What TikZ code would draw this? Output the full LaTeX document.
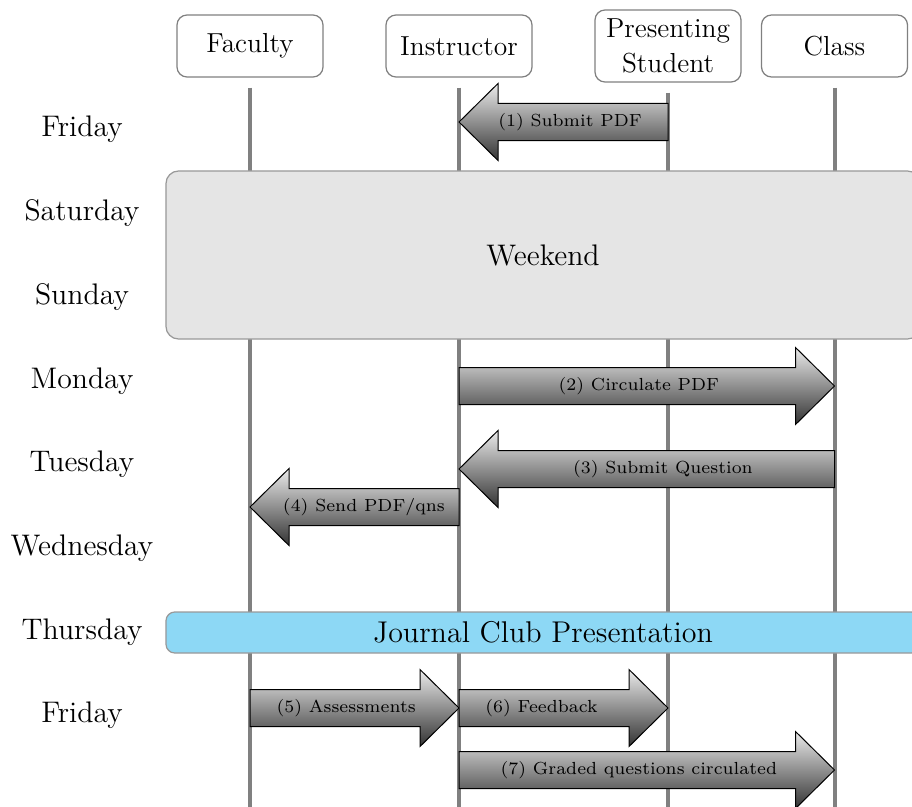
\documentclass[tikz,border=0pt]{standalone}
\usetikzlibrary{calc}
\definecolor{jcblue}{RGB}{141,216,245}
\tikzset{
  header/.style={draw=black!50, line width=0.5pt, rounded corners=4pt, fill=white,
    minimum width=58.4pt, minimum height=24.8pt, align=center, inner sep=0pt,
    font=\fontsize{11}{14}\selectfont},
  lane/.style={draw=black!50, line width=1.6pt},
  day/.style={anchor=base, font=\fontsize{11.9}{14}\selectfont},
  band/.style={draw=black!40, line width=0.5pt, rounded corners=5pt,
    minimum width=301.6pt, inner sep=0pt, font=\fontsize{12}{14}\selectfont},
  flow/.style={draw=black, line width=0.4pt, top color=black!8, bottom color=black!80},
  flowlabel/.style={font=\fontsize{7}{8}\selectfont}
}
\newcommand\flowarrow[4]{%
  \draw[flow] let \p1=(#1), \p2=(#2), \n1={ifthenelse(\x2>\x1,1,-1)} in
    (\x1,{\y1+7.4pt}) -- ({\x2-(\n1)*15.6pt},{\y1+7.4pt}) -- ({\x2-(\n1)*15.6pt},{\y1+15.4pt})
    -- (\x2,\y1) -- ({\x2-(\n1)*15.6pt},{\y1-15.4pt}) -- ({\x2-(\n1)*15.6pt},{\y1-7.4pt})
    -- (\x1,{\y1-7.4pt}) -- cycle;
  \path (#1) -- (#2) node[flowlabel, pos=#3] {#4};
}
\begin{document}
\begin{tikzpicture}[x=0.4pt,y=-0.4pt]
\useasboundingbox (0,0) rectangle (912,806);
% headers
\node[header] (fac) at (250,46) {Faculty};
\node[header] (ins) at (459,46) {Instructor};
\node[header, minimum height=28.8pt] (stu) at (668,46) {Presenting\\Student};
\node[header] (cls) at (834.5,46) {Class};
\coordinate (bot) at (0,815);
% lanes
\foreach \n in {fac,ins,stu,cls}{
  \draw[lane] ([yshift=-4pt]\n.south) -- (\n.south |- bot);
}
% days
\node[day] (d1) at (82,137) {Friday};
\node[day] (d2) at (82,220.7) {Saturday};
\node[day] (d3) at (82,304.3) {Sunday};
\node[day] (d4) at (82,388) {Monday};
\node[day] (d5) at (82,471.7) {Tuesday};
\node[day] (d6) at (82,555.3) {Wednesday};
\node[day] (d7) at (82,639) {Thursday};
\node[day] (d8) at (82,722.7) {Friday};
% bands
\node[band, fill=black!10, minimum height=67.2pt] (weekend) at (543,255) {};
\node[font=\fontsize{11.9}{14}\selectfont, anchor=base] (wk) at (543,265.7) {Weekend};
\node[band, fill=jcblue, minimum height=16.4pt, rounded corners=3.5pt] (jc) at (543,632.5) {Journal Club Presentation};
% rows
\coordinate (r1) at (0,122);
\coordinate (r2) at (0,386);
\coordinate (r3) at (0,469);
\coordinate (r4) at (0,507);
\coordinate (r5) at (0,708);
\coordinate (r7) at (0,770);
\coordinate (t1) at (stu |- r1); \coordinate (h1) at (ins |- r1);
\coordinate (t2) at (ins |- r2); \coordinate (h2) at (cls |- r2);
\coordinate (t3) at (cls |- r3); \coordinate (h3) at (ins |- r3);
\coordinate (t4) at (ins |- r4); \coordinate (h4) at (fac |- r4);
\coordinate (t5) at (fac |- r5); \coordinate (h5) at (ins |- r5);
\coordinate (t6) at (ins |- r5); \coordinate (h6) at (stu |- r5);
\coordinate (t7) at (ins |- r7); \coordinate (h7) at (cls |- r7);
\flowarrow{t1}{h1}{0.469}{(1) Submit PDF}
\flowarrow{t2}{h2}{0.479}{(2) Circulate PDF}
\flowarrow{t3}{h3}{0.457}{(3) Submit Question}
\flowarrow{t4}{h4}{0.455}{(4) Send PDF/qns}
\flowarrow{t5}{h5}{0.46}{(5) Assessments}
\flowarrow{t6}{h6}{0.395}{(6) Feedback}
\flowarrow{t7}{h7}{0.479}{(7) Graded questions circulated}
\end{tikzpicture}
\end{document}
